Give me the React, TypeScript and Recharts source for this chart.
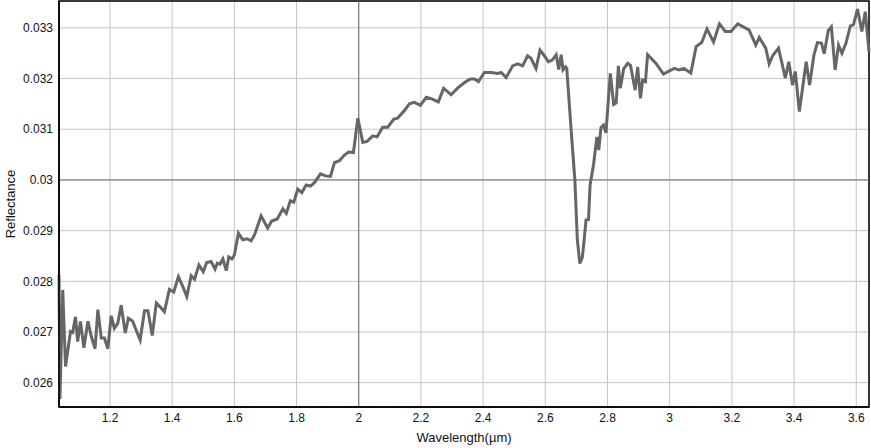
import React from 'react'
import { LineChart, Line, XAxis, YAxis, CartesianGrid, ReferenceLine, ReferenceArea } from 'recharts'

// wavelength in µm
const wavelength = [
  1.036, 1.039, 1.048, 1.057, 1.073, 1.080, 1.089, 1.096, 1.105, 1.116,
  1.129, 1.140, 1.152, 1.161, 1.172, 1.182, 1.193, 1.204, 1.214, 1.225,
  1.236, 1.249, 1.259, 1.273, 1.284, 1.297, 1.311, 1.322, 1.336, 1.349,
  1.362, 1.375, 1.391, 1.405, 1.420, 1.434, 1.447, 1.461, 1.472, 1.486,
  1.500, 1.511, 1.525, 1.538, 1.545, 1.554, 1.563, 1.574, 1.582, 1.592,
  1.600, 1.613, 1.627, 1.641, 1.654, 1.665, 1.686, 1.707, 1.720, 1.738,
  1.756, 1.767, 1.780, 1.791, 1.804, 1.817, 1.831, 1.845, 1.858, 1.877,
  1.893, 1.909, 1.922, 1.938, 1.954, 1.967, 1.983, 1.997, 2.013, 2.027,
  2.045, 2.059, 2.077, 2.093, 2.113, 2.125, 2.147, 2.163, 2.179, 2.198,
  2.217, 2.235, 2.256, 2.273, 2.297, 2.318, 2.340, 2.359, 2.372, 2.385,
  2.404, 2.426, 2.447, 2.458, 2.474, 2.495, 2.511, 2.527, 2.543, 2.554,
  2.570, 2.583, 2.597, 2.610, 2.623, 2.635, 2.643, 2.651, 2.657, 2.665,
  2.669, 2.683, 2.695, 2.703, 2.711, 2.719, 2.725, 2.731, 2.739, 2.744,
  2.755, 2.766, 2.772, 2.779, 2.787, 2.795, 2.809, 2.820, 2.828, 2.835,
  2.841, 2.852, 2.865, 2.874, 2.889, 2.897, 2.906, 2.913, 2.922, 2.929,
  2.956, 2.980, 2.999, 3.015, 3.030, 3.046, 3.068, 3.085, 3.103, 3.120,
  3.141, 3.160, 3.179, 3.197, 3.219, 3.255, 3.277, 3.288, 3.309, 3.320,
  3.331, 3.350, 3.372, 3.383, 3.395, 3.404, 3.417, 3.439, 3.450, 3.464,
  3.475, 3.488, 3.497, 3.510, 3.520, 3.532, 3.543, 3.554, 3.567, 3.581,
  3.591, 3.604, 3.618, 3.629, 3.641,
]

const reflectance = [
  0.02813, 0.02568, 0.02783, 0.02632, 0.02701, 0.02699, 0.02730, 0.02681, 0.02721, 0.02669,
  0.02721, 0.02691, 0.02667, 0.02744, 0.02688, 0.02688, 0.02667, 0.02732, 0.02707, 0.02717,
  0.02753, 0.02698, 0.02727, 0.02721, 0.02704, 0.02684, 0.02742, 0.02742, 0.02693, 0.02757,
  0.02749, 0.02740, 0.02784, 0.02779, 0.02809, 0.02790, 0.02770, 0.02811, 0.02804, 0.02832,
  0.02819, 0.02837, 0.02839, 0.02824, 0.02836, 0.02834, 0.02844, 0.02821, 0.02848, 0.02844,
  0.02852, 0.02895, 0.02882, 0.02884, 0.02880, 0.02892, 0.02929, 0.02905, 0.02919, 0.02923,
  0.02943, 0.02934, 0.02959, 0.02956, 0.02982, 0.02975, 0.02990, 0.02988, 0.02995, 0.03012,
  0.03008, 0.03007, 0.03034, 0.03038, 0.03049, 0.03055, 0.03054, 0.03122, 0.03074, 0.03076,
  0.03087, 0.03085, 0.03104, 0.03104, 0.03120, 0.03122, 0.03137, 0.03150, 0.03153, 0.03147,
  0.03163, 0.03160, 0.03154, 0.03181, 0.03168, 0.03181, 0.03192, 0.03199, 0.03199, 0.03194,
  0.03212, 0.03212, 0.03210, 0.03212, 0.03202, 0.03225, 0.03229, 0.03225, 0.03245, 0.03240,
  0.03220, 0.03256, 0.03245, 0.03233, 0.03237, 0.03247, 0.03218, 0.03247, 0.03217, 0.03223,
  0.03220, 0.03099, 0.03000, 0.02882, 0.02835, 0.02847, 0.02882, 0.02921, 0.02922, 0.02990,
  0.03030, 0.03085, 0.03059, 0.03103, 0.03108, 0.03093, 0.03210, 0.03149, 0.03152, 0.03225,
  0.03181, 0.03219, 0.03230, 0.03226, 0.03177, 0.03223, 0.03161, 0.03197, 0.03194, 0.03247,
  0.03230, 0.03209, 0.03215, 0.03220, 0.03217, 0.03220, 0.03211, 0.03263, 0.03271, 0.03298,
  0.03272, 0.03308, 0.03293, 0.03293, 0.03308, 0.03296, 0.03266, 0.03281, 0.03260, 0.03229,
  0.03245, 0.03260, 0.03201, 0.03233, 0.03187, 0.03214, 0.03135, 0.03233, 0.03187, 0.03247,
  0.03271, 0.03270, 0.03249, 0.03295, 0.03302, 0.03217, 0.03266, 0.03250, 0.03270, 0.03304,
  0.03306, 0.03337, 0.03293, 0.03332, 0.03253,
]

const xTicks = [1.2, 1.4, 1.6, 1.8, 2, 2.2, 2.4, 2.6, 2.8, 3, 3.2, 3.4, 3.6]
const yTicks = [0.026, 0.027, 0.028, 0.029, 0.03, 0.031, 0.032, 0.033]

const Y_MIN = 0.02552
const Y_MAX = 0.03353
const X_MIN = wavelength[0]
const X_MAX = wavelength[wavelength.length - 1]

const data = wavelength.map((w, i) => ({ w, r: reflectance[i] }))

const font = '"Liberation Sans", Arial, sans-serif'

const YLabel = ({ viewBox }: any) => {
  const x = viewBox.x + 10
  const y = viewBox.y + viewBox.height / 2
  return (
    <text
      x={x}
      y={y}
      transform={`rotate(-90, ${x}, ${y})`}
      textAnchor="middle"
      dominantBaseline="central"
      fontSize={13}
      fontFamily={font}
      fill="#111"
    >
      Reflectance
    </text>
  )
}

export default function App() {
  return (
    <div style={{ width: 871, height: 448 }}>
      <style>{'body{margin:0}'}</style>
      <LineChart
        width={871}
        height={448}
        data={data}
        margin={{ top: 1, right: 2, left: 0, bottom: 0 }}
      >
        <CartesianGrid stroke="#c4c4c4" strokeWidth={1} />
        <XAxis
          dataKey="w"
          type="number"
          domain={[X_MIN, X_MAX]}
          ticks={xTicks}
          tickFormatter={(v: number) => String(Number(v.toFixed(1)))}
          height={41}
          tickLine={false}
          tickSize={4}
          axisLine={{ stroke: '#000', strokeWidth: 1.5 }}
          tick={{ fontSize: 12, fill: '#111', fontFamily: font }}
          label={{ value: 'Wavelength(µm)', position: 'insideBottom', offset: 6, fontSize: 13, fill: '#111', fontFamily: font }}
        />
        <YAxis
          dataKey="r"
          type="number"
          domain={[Y_MIN, Y_MAX]}
          ticks={yTicks}
          tickFormatter={(v: number) => String(Number(v.toFixed(3)))}
          width={59}
          tickLine={false}
          tickSize={4}
          axisLine={{ stroke: '#000', strokeWidth: 1.5 }}
          tick={{ fontSize: 12, fill: '#111', fontFamily: font }}
          label={{ content: <YLabel /> }}
          allowDataOverflow
        />
        <ReferenceLine x={2} stroke="#6e6e6e" strokeWidth={1} />
        <ReferenceLine y={0.03} stroke="#6e6e6e" strokeWidth={1} />
        <ReferenceArea
          x1={X_MIN}
          x2={X_MAX}
          y1={Y_MIN}
          y2={Y_MAX}
          fill="none"
          stroke="#000"
          strokeWidth={1.5}
          fillOpacity={0}
        />
        <Line
          type="linear"
          dataKey="r"
          stroke="#666"
          strokeWidth={3}
          dot={false}
          isAnimationActive={false}
        />
      </LineChart>
    </div>
  )
}
